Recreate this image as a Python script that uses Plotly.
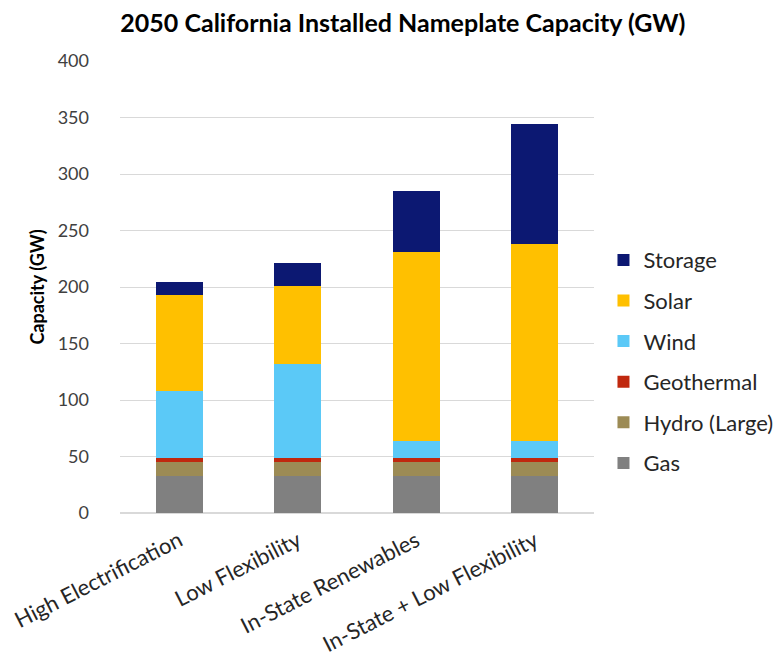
import plotly.graph_objects as go

scenarios = ["High Electrification", "Low Flexibility", "In-State Renewables", "In-State + Low Flexibility"]
gas = [33, 33, 33, 33]
hydro = [12, 12, 12, 12]
geothermal = [4, 4, 4, 4]
wind = [59, 83, 15, 15]
solar = [85, 69, 167, 174]
storage = [11, 20, 54, 106]

series = [
    ("Gas", gas, "#808080"),
    ("Hydro (Large)", hydro, "#9C8B55"),
    ("Geothermal", geothermal, "#C0280E"),
    ("Wind", wind, "#5BC9F7"),
    ("Solar", solar, "#FFC000"),
    ("Storage", storage, "#0C1872"),
]

FONT = "Lato, Carlito, Calibri, sans-serif"

fig = go.Figure()
n = len(series)
for i, (name, vals, color) in enumerate(series):
    fig.add_trace(go.Bar(
        name=name, x=scenarios, y=vals, marker_color=color,
        marker_line_width=0, legendgroup=name, legendrank=n - i,
    ))

fig.update_layout(
    width=782, height=665,
    barmode="stack", bargap=0.6,
    paper_bgcolor="white", plot_bgcolor="white",
    margin=dict(l=112, r=193, t=53, b=160),
    font=dict(family=FONT, size=19, color="#262626"),
    title=dict(text="<b>2050 California Installed Nameplate Capacity (GW)</b>",
               x=0.505, xanchor="center", y=0.977, yanchor="middle",
               font=dict(family=FONT, size=25, color="#000000")),
    legend=dict(traceorder="grouped", tracegroupgap=9,
                x=1.02, xanchor="left", y=0.606, yanchor="top",
                font=dict(family=FONT, size=22, color="#262626"),
                bgcolor="rgba(0,0,0,0)"),
    showlegend=True,
)
fig.update_yaxes(range=[0, 400], dtick=50, showgrid=True, gridcolor="#D9D9D9",
                 gridwidth=1, zeroline=True, zerolinecolor="#D9D9D9", showline=False,
                 ticklabelstandoff=30, automargin=False,
                 title=dict(text="<b>Capacity (GW)</b>", standoff=8,
                            font=dict(family=FONT, size=18, color="#000000")),
                 tickfont=dict(family=FONT, size=18, color="#404040"))
fig.update_xaxes(tickangle=-27, showline=False, showgrid=False,
                 ticklabelstandoff=10, automargin=False,
                 tickfont=dict(family=FONT, size=22, color="#262626"))

fig.write_html("out.html")
